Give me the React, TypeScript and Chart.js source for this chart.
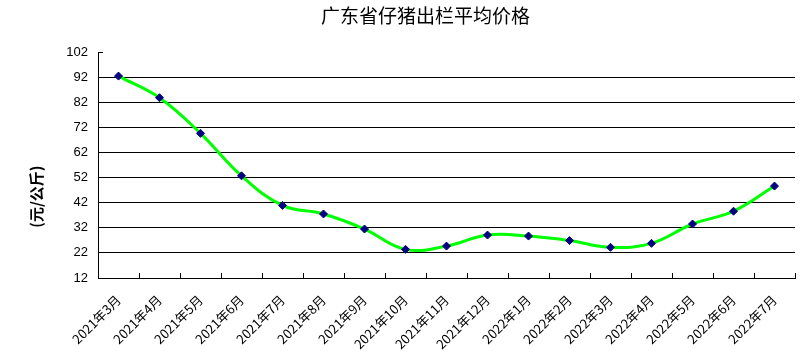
import React, { useEffect, useRef } from "react";
import { Chart, registerables } from "chart.js";

Chart.register(...registerables);

const TITLE = "广东省仔猪出栏平均价格";
const Y_TITLE = "(元/公斤)";
const CATEGORIES = [
  "2021年3月", "2021年4月", "2021年5月", "2021年6月", "2021年7月", "2021年8月",
  "2021年9月", "2021年10月", "2021年11月", "2021年12月", "2022年1月", "2022年2月",
  "2022年3月", "2022年4月", "2022年5月", "2022年6月", "2022年7月",
];
const PRICES = [92.4, 83.8, 69.6, 52.7, 40.9, 37.5, 31.5, 23.4, 24.7, 29.1, 28.7, 26.9, 24.2, 25.8, 33.5, 38.6, 48.6];
const Y_MIN = 12;
const Y_MAX = 102;
const Y_STEP = 10;

const decorPlugin = {
  id: "decor",
  afterDraw(chart: any) {
    const { ctx, chartArea, scales } = chart;
    const xs = scales.x;
    const ys = scales.y;
    ctx.save();
    ctx.strokeStyle = "#000";
    ctx.lineWidth = 1;
    // inside tick marks on x axis at category boundaries
    for (let i = 0; i <= CATEGORIES.length; i++) {
      const x = Math.round(xs.getPixelForValue(i - 0.5)) + 0.5;
      ctx.beginPath();
      ctx.moveTo(x, chartArea.bottom);
      ctx.lineTo(x, chartArea.bottom - 5);
      ctx.stroke();
    }
    // inside tick at top of y axis
    const yt = Math.round(ys.getPixelForValue(Y_MAX)) + 0.5;
    ctx.beginPath();
    ctx.moveTo(chartArea.left, yt);
    ctx.lineTo(chartArea.left + 5, yt);
    ctx.stroke();
    // title
    ctx.fillStyle = "#000";
    ctx.font = '19px "Noto Sans CJK SC"';
    ctx.textAlign = "center";
    ctx.textBaseline = "middle";
    ctx.fillText(TITLE, (chartArea.left + chartArea.right) / 2 - 21, 16);
    // y title
    ctx.translate(36, chartArea.top + (chartArea.bottom - chartArea.top) * 0.64);
    ctx.rotate(-Math.PI / 2);
    ctx.font = 'bold 15px "Noto Sans CJK SC"';
    ctx.fillText(Y_TITLE, 0, 0);
    ctx.restore();
  },
};

export default function App() {
  const ref = useRef<HTMLCanvasElement>(null);
  useEffect(() => {
    document.body.style.margin = "0";
    const chart = new Chart(ref.current!, {
      type: "line",
      data: {
        labels: CATEGORIES,
        datasets: [
          {
            data: PRICES,
            borderColor: "#00FF00",
            borderWidth: 3,
            tension: 0.4,
            pointStyle: "rectRot",
            pointRadius: 4,
            pointBackgroundColor: "#000080",
            pointBorderColor: "#000080",
            pointBorderWidth: 1,
          },
        ],
      },
      options: {
        responsive: false,
        animation: false,
        layout: { padding: { top: 52, right: 7, left: 0, bottom: 0 } },
        plugins: { legend: { display: false }, title: { display: false }, tooltip: { enabled: false } },
        scales: {
          x: {
            offset: true,
            grid: { display: false, offset: true },
            border: { display: true, color: "#000", width: 1 },
            ticks: {
              autoSkip: false,
              minRotation: 45,
              maxRotation: 45,
              padding: 6,
              color: "#000",
              font: { family: '"Noto Sans CJK SC"', size: 13 },
            },
            afterFit: (s: any) => { s.height = 85; },
          },
          y: {
            min: Y_MIN,
            max: Y_MAX,
            grid: {
              color: (c: any) => (c.tick && c.tick.value === Y_MAX ? "rgba(0,0,0,0)" : "#000"),
              drawTicks: false,
              lineWidth: 1,
            },
            border: { display: true, color: "#000", width: 1 },
            ticks: {
              stepSize: Y_STEP,
              padding: 10,
              color: "#000",
              font: { family: '"Liberation Sans"', size: 13 },
            },
            afterFit: (s: any) => { s.width = 98; },
          },
        },
      },
      plugins: [decorPlugin],
    });
    return () => chart.destroy();
  }, []);
  return (
    <div style={{ width: 802, height: 363 }}>
      <canvas ref={ref} width={802} height={363} />
    </div>
  );
}
